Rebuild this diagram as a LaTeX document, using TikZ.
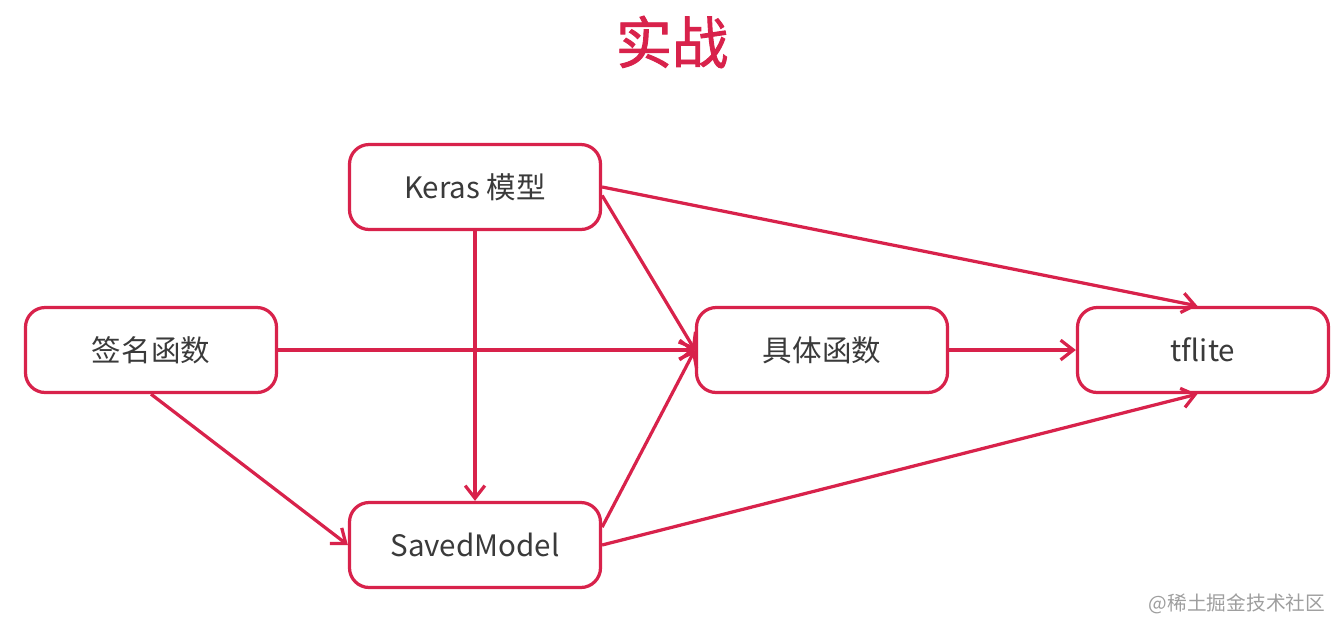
\documentclass[tikz,border=0pt]{standalone}
\usepackage{xcolor}
\usepackage{fontspec}
\usepackage{tikz}
\usetikzlibrary{arrows.meta}
\setmainfont{Noto Sans CJK SC}
\newfontfamily\cjk{Noto Sans CJK SC}
\newfontfamily\cjktitle[FakeBold=1.6]{Noto Sans CJK SC}
\definecolor{flowred}{HTML}{D8224B}
\definecolor{flowtext}{HTML}{3A3A3A}

\begin{document}
\begin{tikzpicture}[x=0.025cm,y=-0.025cm,
    box/.style={draw=flowred, line width=2.3pt, rounded corners=14pt, fill=white,
      minimum width=251*0.025cm, minimum height=85*0.025cm,
      text=flowtext, font=\cjk\fontsize{21}{25}\selectfont},
    link/.style={draw=flowred, line width=2.3pt, -{Straight Barb[length=9pt,width=14pt]}}]
    \useasboundingbox (0,0) rectangle (1336,634);
    % Title
    \node[text=flowred, font=\cjktitle\fontsize{40}{46}\selectfont] (title) at (672,42) {实战};
    % Boxes
    \node[box] (keras) at (475,187) {Keras 模型};
    \node[box] (sig) at (151,350) {签名函数};
    \node[box] (concrete) at (822,350) {具体函数};
    \node[box] (tflite) at (1203,350) {tflite};
    \node[box] (saved) at (475,545) {SavedModel};
    % Arrows
    \draw[link] (keras.south) -- (saved.north);
    \draw[link] (keras.east) -- ([xshift=-4pt]tflite.north);
    \draw[link] ([yshift=-6pt]keras.east) -- (concrete.west);
    \draw[link] (sig.east) -- (concrete.west);
    \draw[link] (sig.south) -- (saved.west);
    \draw[link] (saved.8) -- (concrete.west);
    \draw[link] (saved.east) -- ([xshift=-4pt]tflite.south);
    \draw[link] (concrete.east) -- (tflite.west);
    % Watermark
    \node[text=black!38, font=\cjk\fontsize{14}{16}\selectfont] (mark) at (1237,604) {@稀土掘金技术社区};
\end{tikzpicture}
\end{document}
